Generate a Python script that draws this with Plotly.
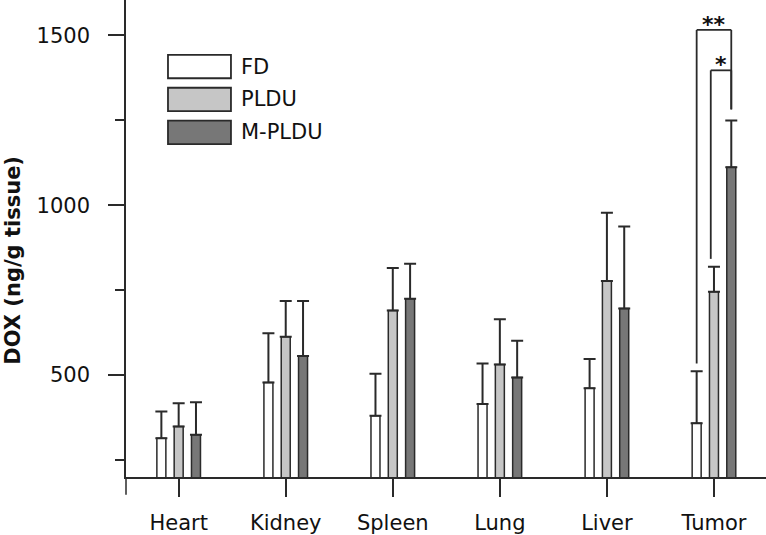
import plotly.graph_objects as go

categories = ["Heart", "Kidney", "Spleen", "Lung", "Liver", "Tumor"]
series_names = ["FD", "PLDU", "M-PLDU"]
fd = [314, 478, 380, 415, 461, 358]
fd_err = [79, 145, 124, 119, 86, 153]
pldu = [349, 613, 690, 531, 777, 745]
pldu_err = [68, 105, 125, 133, 201, 74]
mpldu = [324, 556, 725, 493, 696, 1112]
mpldu_err = [96, 162, 103, 108, 241, 137]
y_ticks = [500, 1000, 1500]
y_minor = [250, 750, 1250]

# significance brackets on Tumor: (label, top value, left leg bottom, right leg bottom)
sig_labels = ["**", "*"]
sig_top = [1516, 1397]
sig_left_bottom = [534, 842]
sig_right_bottom = [1282, 1282]

fills = ["#ffffff", "#c6c6c6", "#777777"]
edge = "#2a2a2a"
FONT = "DejaVu Sans"

bargap = 0.515
bargroupgap = 0.48
slot = (1 - bargap) / 3
offsets = [-slot, 0, slot]

fig = go.Figure()
xs = list(range(len(categories)))
for name, vals, errs, col in zip(series_names, [fd, pldu, mpldu],
                                 [fd_err, pldu_err, mpldu_err], fills):
    fig.add_trace(go.Bar(
        x=xs, y=vals, name=name,
        marker=dict(color=col, line=dict(color=edge, width=1.5)),
        error_y=dict(type="data", symmetric=False, array=errs,
                     arrayminus=[0] * len(errs),
                     color=edge, thickness=2, width=6),
        showlegend=False,
    ))

shapes = []
# y-axis extension below x-axis
shapes.append(dict(type="line", xref="paper", yref="paper", x0=0, x1=0,
                   y0=-0.037, y1=0, line=dict(color=edge, width=1.5)))

# significance brackets
ti = categories.index("Tumor")
x_left = [ti + offsets[0], ti + offsets[1] - 0.03]
x_right = ti + offsets[2]
for k in range(len(sig_labels)):
    shapes.append(dict(type="line", xref="x", yref="y",
                       x0=x_left[k], x1=x_left[k], y0=sig_left_bottom[k], y1=sig_top[k],
                       line=dict(color=edge, width=1.8)))
    shapes.append(dict(type="line", xref="x", yref="y",
                       x0=x_left[k], x1=x_right, y0=sig_top[k], y1=sig_top[k],
                       line=dict(color=edge, width=1.8)))
    shapes.append(dict(type="line", xref="x", yref="y",
                       x0=x_right, x1=x_right, y0=sig_top[k], y1=sig_right_bottom[k],
                       line=dict(color=edge, width=1.8)))

annotations = []
for k in range(len(sig_labels)):
    annotations.append(dict(x=(x_left[k] + x_right) / 2, y=sig_top[k], xref="x", yref="y",
                            text="<b>" + sig_labels[k] + "</b>", showarrow=False,
                            yanchor="bottom", yshift=-9,
                            font=dict(family=FONT, size=22, color="#111")))

# custom legend
leg_x0, leg_x1 = 0.0656, 0.164
leg_tops = [0.885, 0.816, 0.747]
leg_h = 0.049
for name, col, top in zip(series_names, fills, leg_tops):
    shapes.append(dict(type="rect", xref="paper", yref="paper",
                       x0=leg_x0, x1=leg_x1, y0=top - leg_h, y1=top,
                       fillcolor=col, line=dict(color=edge, width=1.8)))
    annotations.append(dict(x=leg_x1 + 0.012, y=top - leg_h / 2, xref="paper", yref="paper",
                            text=name, showarrow=False, xanchor="left", yanchor="middle",
                            font=dict(family=FONT, size=21, color="#111")))

# y title
annotations.append(dict(x=-0.177, y=0.455, xref="paper", yref="paper",
                        text="<b>DOX (ng/g tissue)</b>", textangle=-90, showarrow=False,
                        xanchor="center", yanchor="middle",
                        font=dict(family=FONT, size=21, color="#111")))

fig.update_layout(
    width=766, height=535,
    margin=dict(l=126, r=0, t=0, b=56),
    plot_bgcolor="white", paper_bgcolor="white",
    barmode="group", bargap=bargap, bargroupgap=bargroupgap,
    font=dict(family=FONT, size=21, color="#111"),
    shapes=shapes, annotations=annotations,
    xaxis=dict(range=[-0.492, 5.486], tickvals=xs, ticktext=categories,
               showline=True, linecolor=edge, linewidth=1.5,
               ticks="outside", ticklen=18, tickwidth=1.5, tickcolor=edge,
               ticklabelstandoff=8, showgrid=False, zeroline=False),
    yaxis=dict(range=[200, 1604], tickvals=y_ticks,
               showline=True, linecolor=edge, linewidth=1.5,
               ticks="outside", ticklen=16, tickwidth=1.5, tickcolor=edge,
               ticklabelstandoff=14, showgrid=False, zeroline=False,
               minor=dict(tickvals=y_minor, ticks="outside", ticklen=9,
                          tickwidth=1.5, tickcolor=edge, showgrid=False)),
)

fig.write_html("out.html", config={"displayModeBar": False},
               post_script="document.body.style.margin='0';document.body.style.overflow='hidden';")
